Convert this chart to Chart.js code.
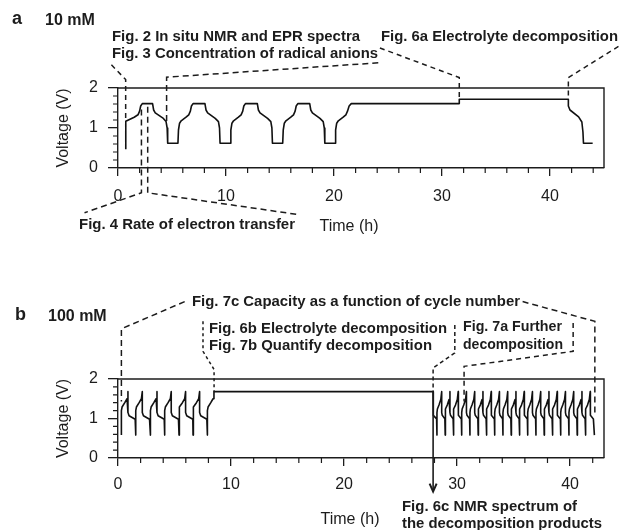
<!DOCTYPE html>
<html><head><meta charset="utf-8">
<script src="https://cdn.jsdelivr.net/npm/chart.js@4/dist/chart.umd.min.js"></script>
<style>
html,body{margin:0;padding:0;background:#fff;}
#wrap{position:relative;width:621px;height:530px;overflow:hidden;}
canvas{position:absolute;left:0;}
</style></head><body>
<div id="wrap">
<canvas id="ca" width="621" height="255" style="top:0px"></canvas>
<canvas id="cb" width="621" height="275" style="top:255px"></canvas>
</div>
<script>
// ---------------- DATA ----------------
// Panel a (10 mM): voltage profile vertices
const aTime = [0.72,0.72,1.50,1.85,2.00,2.10,2.25,3.20,3.30,3.45,4.20,4.45,4.55,4.60,5.55,
  5.60,5.70,5.85,6.30,6.55,6.70,6.80,6.95,8.05,8.15,8.30,9.00,9.30,9.40,9.45,10.40,
  10.45,10.55,10.70,11.15,11.40,11.55,11.65,11.80,12.90,13.00,13.15,13.85,14.15,14.25,14.30,15.25,
  15.30,15.40,15.55,16.00,16.25,16.40,16.50,16.65,17.75,17.85,18.00,18.70,19.00,19.10,19.15,20.10,
  20.15,20.25,20.40,20.85,21.10,21.25,21.40,21.60,31.60,31.60,41.70,41.70,41.85,42.65,42.95,43.05,43.10,43.95];
const aVolt = [0.47,1.17,1.27,1.33,1.42,1.55,1.61,1.61,1.45,1.38,1.24,1.16,1.00,0.62,0.62,
  0.95,1.12,1.18,1.27,1.33,1.42,1.55,1.61,1.61,1.45,1.38,1.24,1.16,1.00,0.62,0.62,
  0.95,1.12,1.18,1.27,1.33,1.42,1.55,1.61,1.61,1.45,1.38,1.24,1.16,1.00,0.62,0.62,
  0.95,1.12,1.18,1.27,1.33,1.42,1.55,1.61,1.61,1.45,1.38,1.24,1.16,1.00,0.62,0.62,
  0.95,1.12,1.18,1.27,1.33,1.42,1.55,1.61,1.61,1.72,1.72,1.55,1.45,1.28,1.15,0.90,0.62,0.62];

// Panel b (100 mM): cycle start times (charge starts)
const b1Starts = [0.30, 1.57, 2.87, 4.13, 5.40, 6.64, 7.91];
const b1ChargeDt = [0, 0, 0.06, 0.30, 0.50, 0.58];
const b1ChargeV  = [0.58, 1.20, 1.29, 1.40, 1.50, 1.68];
const b1DischDt  = [0.58, 0.58, 0.68, 1.22];
const b1DischV   = [1.68, 1.15, 1.07, 0.98];
const bFlatEnd = 27.88;
const bFlatV = 1.68;
const b2FirstDischT = [27.88, 27.88, 27.94, 28.19];
const b2FirstDischV = [1.68, 1.15, 1.08, 0.99];
const b2Starts = [28.22, 28.95, 29.68, 30.41, 31.14, 31.87, 32.60, 33.33, 34.06, 34.79,
  35.52, 36.25, 36.98, 37.71, 38.44, 39.17, 39.90, 40.63, 41.36];
const b2ChargeDt = [0, 0, 0.04, 0.18, 0.34, 0.42];
const b2ChargeV  = [0.58, 1.15, 1.24, 1.34, 1.48, 1.68];
const b2DischDt  = [0.42, 0.42, 0.47, 0.70];
const b2DischV   = [1.68, 1.15, 1.08, 0.99];
const b2LastEnd = 42.15;
const bLowV = 0.58;

// Axis tick labels
const xTicksMajor = [0, 10, 20, 30, 40];
const yTicksMajor = [0, 1, 2];

// ---------------- BUILD ----------------
const FONT = "'Liberation Sans', Arial, Helvetica, sans-serif";
const INK = '#1c1c1c';
Chart.defaults.font.family = FONT;
Chart.defaults.color = INK;

const aPts = aTime.map((t,i)=>({x:t, y:aVolt[i]}));

const bPts = [];
b1Starts.forEach((s,i)=>{
  b1ChargeDt.forEach((d,j)=>bPts.push({x:s+d, y:b1ChargeV[j]}));
  if (i < b1Starts.length-1) b1DischDt.forEach((d,j)=>bPts.push({x:s+d, y:b1DischV[j]}));
});
bPts.push({x:bFlatEnd, y:bFlatV});
b2FirstDischT.forEach((t,j)=>bPts.push({x:t, y:b2FirstDischV[j]}));
b2Starts.forEach((s,i)=>{
  b2ChargeDt.forEach((d,j)=>bPts.push({x:s+d, y:b2ChargeV[j]}));
  b2DischDt.forEach((d,j)=>bPts.push({x:s+d, y:b2DischV[j]}));
});
bPts.push({x:b2LastEnd, y:bLowV});

// Annotations (line paths in data coordinates, texts in canvas pixels)
const annA = {
  lines: [
    {pts:[[-0.61,2.58],[0.71,2.21],[0.71,1.21]], dash:[5,4]},
    {pts:[[24.1,2.63],[4.5,2.27],[4.5,1.16]], dash:[6,4]},
    {pts:[[24.25,3.0],[31.6,2.26],[31.6,1.72]], dash:[5,4]},
    {pts:[[46.34,3.04],[41.7,2.26],[41.7,1.72]], dash:[5,4]},
    {pts:[[2.17,1.46],[2.17,-0.62],[-3.1,-1.12]], dash:[6,4]},
    {pts:[[2.75,1.53],[2.75,-0.62],[16.84,-1.17]], dash:[6,4]}
  ],
  arrows: [],
  texts: [
    {t:'a', x:12, y:24, font:'bold 18px '+FONT, base:'alphabetic'},
    {t:'10 mM', x:45, y:25, font:'bold 16px '+FONT, base:'alphabetic'},
    {t:'Fig. 2 In situ NMR and EPR spectra', x:112, y:37, w:248},
    {t:'Fig. 3 Concentration of radical anions', x:112, y:54, w:266},
    {t:'Fig. 6a Electrolyte decomposition', x:381, y:37, w:237},
    {t:'Fig. 4 Rate of electron transfer', x:79, y:225, w:216},
    {t:'Time (h)', x:349, y:227, font:'16px '+FONT, align:'center'}
  ]
};
const annB = {
  lines: [
    {pts:[[5.9,3.96],[0.3,3.27],[0.3,1.43]], dash:[6,4]},
    {pts:[[35.8,3.96],[42.19,3.46],[42.19,1.05]], dash:[6,4]},
    {pts:[[7.52,3.46],[7.52,2.70],[8.5,2.24],[8.5,1.68]], dash:[3,3]},
    {pts:[[29.8,3.37],[29.8,2.66],[27.88,2.28],[27.88,1.68]], dash:[4,3]},
    {pts:[[40.27,3.42],[40.27,2.70],[30.62,2.32],[30.62,1.43]], dash:[5,4]}
  ],
  arrows: [ {t:27.88, v0:1.68, v1:-0.85} ],
  texts: [
    {t:'b', x:15, y:65, font:'bold 18px '+FONT, base:'alphabetic'},
    {t:'100 mM', x:48, y:66, font:'bold 16px '+FONT, base:'alphabetic'},
    {t:'Fig. 7c Capacity as a function of cycle number', x:192, y:47, w:328},
    {t:'Fig. 6b Electrolyte decomposition', x:209, y:74, w:238},
    {t:'Fig. 7b Quantify decomposition', x:209, y:91, w:223},
    {t:'Fig. 7a Further', x:463, y:72, w:99},
    {t:'decomposition', x:463, y:90, w:100},
    {t:'Fig. 6c NMR spectrum of', x:402, y:252, w:175},
    {t:'the decomposition products', x:402, y:269, w:200},
    {t:'Time (h)', x:350, y:265, font:'16px '+FONT, align:'center'}
  ]
};

const decor = {
  id:'decor',
  afterDraw(chart, args, opts) {
    const ctx = chart.ctx, a = chart.chartArea;
    const xs = chart.scales.x, ys = chart.scales.y;
    const ann = opts.ann;
    ctx.save();
    // frame (top and right)
    ctx.strokeStyle = INK; ctx.lineWidth = 1.4; ctx.setLineDash([]);
    ctx.beginPath();
    ctx.moveTo(a.left, a.top); ctx.lineTo(a.right, a.top); ctx.lineTo(a.right, a.bottom);
    ctx.stroke();
    // minor ticks
    ctx.lineWidth = 1.2;
    ctx.beginPath();
    for (let k=1;k<10;k++){ if (k===5) continue; const py = ys.getPixelForValue(k*0.2); ctx.moveTo(a.left-5, py); ctx.lineTo(a.left, py); }
    for (let t=2; t<xs.max; t+=2){ if (t%10===0) continue; const px = xs.getPixelForValue(t); ctx.moveTo(px, a.bottom); ctx.lineTo(px, a.bottom+5); }
    ctx.stroke();
    // annotation lines
    ctx.lineWidth = 1.5; ctx.strokeStyle = INK;
    ann.lines.forEach(l=>{
      ctx.setLineDash(l.dash);
      ctx.beginPath();
      l.pts.forEach(([t,v],i)=>{ const px=xs.getPixelForValue(t), py=ys.getPixelForValue(v); i?ctx.lineTo(px,py):ctx.moveTo(px,py); });
      ctx.stroke();
    });
    ctx.setLineDash([]);
    ann.arrows.forEach(ar=>{
      const px = xs.getPixelForValue(ar.t), p0 = ys.getPixelForValue(ar.v0), p1 = ys.getPixelForValue(ar.v1);
      ctx.lineWidth = 1.6;
      ctx.beginPath(); ctx.moveTo(px,p0); ctx.lineTo(px,p1); ctx.stroke();
      ctx.lineWidth = 2;
      ctx.beginPath(); ctx.moveTo(px-3.5,p1-8); ctx.lineTo(px,p1); ctx.lineTo(px+3.5,p1-8); ctx.stroke();
    });
    // texts
    ctx.fillStyle = INK;
    ann.texts.forEach(tx=>{
      ctx.font = tx.font || ('bold 15px '+FONT);
      ctx.textAlign = tx.align || 'left';
      ctx.textBaseline = tx.base || 'middle';
      if (tx.w) ctx.fillText(tx.t, tx.x, tx.y, tx.w); else ctx.fillText(tx.t, tx.x, tx.y);
    });
    ctx.restore();
  }
};

function makeChart(id, pts, xmax, padTop, padBottom, labelPad, ann) {
  return new Chart(document.getElementById(id), {
    type:'line',
    data:{ datasets:[{ data:pts, borderColor:'#111', borderWidth:1.6, pointRadius:0, tension:0, fill:false, borderJoinStyle:'round' }] },
    options:{
      responsive:false, animation:false, events:[],
      layout:{ padding:{ left:50, right:17, top:padTop, bottom:padBottom } },
      plugins:{ legend:{display:false}, tooltip:{enabled:false}, decor:{ann} },
      scales:{
        x:{ type:'linear', min:0, max:xmax,
          afterBuildTicks: ax => { ax.ticks = xTicksMajor.map(v=>({value:v})); },
          ticks:{ stepSize:10, padding:labelPad, maxRotation:0, autoSkip:false, font:{size:16, family:FONT}, color:INK },
          grid:{ drawOnChartArea:false, tickLength:8, color:INK, lineWidth:1.3 },
          border:{ display:true, color:INK, width:1.4 },
          afterFit: ax => { ax.height = 40; }
        },
        y:{ type:'linear', min:0, max:2,
          afterBuildTicks: ax => { ax.ticks = yTicksMajor.map(v=>({value:v})); },
          ticks:{ stepSize:1, padding:10, font:{size:16, family:FONT}, color:INK },
          grid:{ drawOnChartArea:false, tickLength:10, color:INK, lineWidth:1.3 },
          border:{ display:true, color:INK, width:1.4 },
          title:{ display:true, text:'Voltage (V)', font:{size:16, family:FONT}, color:INK, padding:{top:4,bottom:4} },
          afterFit: ax => { ax.width = 68; }
        }
      }
    },
    plugins:[decor]
  });
}

makeChart('ca', aPts, 45, 88, 47, 11, annA);
makeChart('cb', bPts, 43, 124, 32, 9, annB);
</script>
</body></html>
